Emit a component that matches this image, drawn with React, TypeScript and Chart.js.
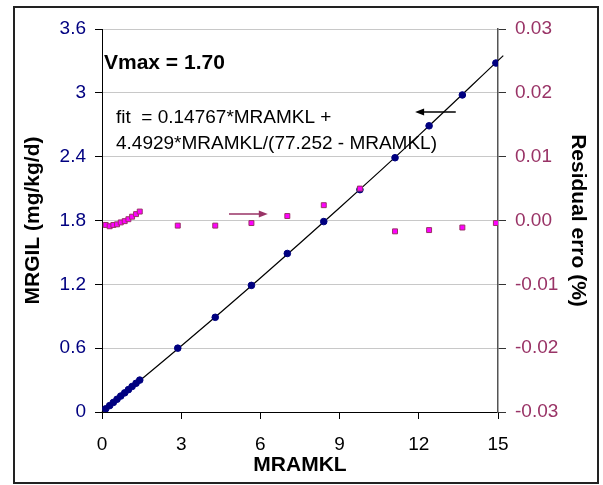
import React, { useEffect, useRef } from "react";
import { Chart, registerables } from "chart.js";

Chart.register(...registerables);

const FONT = "Arial, 'Liberation Sans', Helvetica, sans-serif";

// Measured points: MRAMKL (x) against MRGIL (left axis)
const mramkl = [
  0.14, 0.29, 0.43, 0.57, 0.71, 0.86, 1.0, 1.14, 1.29, 1.43,
  2.87, 4.29, 5.66, 7.02, 8.4, 9.77, 11.1, 12.39, 13.65, 14.92,
];
const mrgil = [
  0.03, 0.06, 0.09, 0.12, 0.15, 0.18, 0.21, 0.24, 0.27, 0.3,
  0.6, 0.89, 1.19, 1.49, 1.79, 2.09, 2.39, 2.69, 2.98, 3.28,
];
// Residual error (%) on the right axis
const residual = [
  -0.0007, -0.0009, -0.0007, -0.0006, -0.0003, -0.0001, 0.0002, 0.0006, 0.001, 0.0014,
  -0.0008, -0.0008, -0.0004, 0.0007, 0.0024, 0.005, -0.0017, -0.0015, -0.0011, -0.0004,
];
// Fitted curve
const fitX = [0, 3, 6, 9, 12, 15.2];
const fitY = [0, 0.62, 1.26, 1.92, 2.6, 3.35];

const xTicks = [0, 3, 6, 9, 12, 15];
const yTicks = [0, 0.6, 1.2, 1.8, 2.4, 3, 3.6];
const y2Ticks = [-0.03, -0.02, -0.01, 0, 0.01, 0.02, 0.03];

const vmaxLabel = "Vmax = 1.70";
const fitLabel = ["fit  = 0.14767*MRAMKL +", "4.4929*MRAMKL/(77.252 - MRAMKL)"];

const NAVY = "#000080";
const PLUM = "#993366";

function arrow(ctx: CanvasRenderingContext2D, x1: number, y: number, x2: number, color: string) {
  const dir = Math.sign(x2 - x1);
  ctx.save();
  ctx.strokeStyle = color;
  ctx.fillStyle = color;
  ctx.lineWidth = 1.5;
  ctx.beginPath();
  ctx.moveTo(x1, y);
  ctx.lineTo(x2 - dir * 6, y);
  ctx.stroke();
  ctx.beginPath();
  ctx.moveTo(x2, y);
  ctx.lineTo(x2 - dir * 9, y - 3.5);
  ctx.lineTo(x2 - dir * 9, y + 3.5);
  ctx.closePath();
  ctx.fill();
  ctx.restore();
}

const decor = {
  id: "decor",
  beforeDraw(chart: any) {
    const { ctx, width, height } = chart;
    ctx.save();
    ctx.fillStyle = "#ffffff";
    ctx.fillRect(0, 0, width, height);
    ctx.restore();
  },
  afterDatasetsDraw(chart: any) {
    const { ctx, chartArea, scales } = chart;
    const { x, y, y2 } = scales;
    ctx.save();
    ctx.fillStyle = "#000";
    ctx.textAlign = "left";
    ctx.textBaseline = "alphabetic";
    ctx.font = `bold 21px ${FONT}`;
    ctx.fillText(vmaxLabel, chartArea.left + 2, chartArea.top + 40);
    ctx.font = `19px ${FONT}`;
    ctx.fillText(fitLabel[0], chartArea.left + 14, chartArea.top + 94);
    ctx.fillText(fitLabel[1], chartArea.left + 14, chartArea.top + 120);
    ctx.restore();
    // arrows pointing to the axis each series belongs to
    arrow(ctx, x.getPixelForValue(13.4), y.getPixelForValue(2.82), x.getPixelForValue(11.86), "#000");
    arrow(ctx, x.getPixelForValue(4.81), y2.getPixelForValue(0.001), x.getPixelForValue(6.28), PLUM);
  },
  afterDraw(chart: any) {
    const { ctx } = chart;
    ctx.save();
    ctx.strokeStyle = "#222";
    ctx.lineWidth = 2;
    ctx.strokeRect(14, 7, 584, 476);
    ctx.restore();
  },
};

export default function App() {
  const ref = useRef<HTMLCanvasElement>(null);

  useEffect(() => {
    if (!ref.current) return;
    Chart.defaults.font.family = FONT;
    const chart = new Chart(ref.current, {
      type: "scatter",
      data: {
        datasets: [
          {
            label: "Residual",
            data: mramkl.map((v, i) => ({ x: v, y: residual[i] })),
            yAxisID: "y2",
            pointStyle: "rect",
            pointRadius: 3.5,
            backgroundColor: "#ff00ff",
            borderColor: PLUM,
            borderWidth: 1,
            order: 0,
          },
          {
            label: "MRGIL",
            data: mramkl.map((v, i) => ({ x: v, y: mrgil[i] })),
            yAxisID: "y",
            pointStyle: "circle",
            pointRadius: 3.3,
            backgroundColor: NAVY,
            borderColor: NAVY,
            borderWidth: 1,
            order: 1,
          },
          {
            label: "fit",
            data: fitX.map((v, i) => ({ x: v, y: fitY[i] })),
            yAxisID: "y",
            showLine: true,
            pointRadius: 0,
            borderColor: "#000",
            borderWidth: 1.2,
            tension: 0.4,
            clip: false,
            order: 2,
          } as any,
        ],
      },
      options: {
        responsive: false,
        animation: false,
        devicePixelRatio: 1,
        layout: { padding: { top: 29, left: 0, right: 0, bottom: 0 } },
        plugins: { legend: { display: false }, tooltip: { enabled: false } },
        scales: {
          x: {
            type: "linear",
            min: 0,
            max: 15,
            afterBuildTicks: (s: any) => { s.ticks = xTicks.map((v) => ({ value: v })); },
            afterFit: (s: any) => { s.height = 73; },
            ticks: { color: "#000", font: { size: 19 }, padding: 14, callback: (v: any) => String(v) },
            grid: { drawOnChartArea: false, tickLength: 7, tickColor: "#000" },
            border: { color: "#000", width: 1 },
            title: { display: true, text: "MRAMKL", color: "#000", font: { size: 21, weight: "bold" }, padding: { top: 0, bottom: 7 } },
          },
          y: {
            type: "linear",
            position: "left",
            min: 0,
            max: 3.6,
            afterBuildTicks: (s: any) => { s.ticks = yTicks.map((v) => ({ value: v })); },
            afterFit: (s: any) => { s.width = 102; },
            ticks: { color: NAVY, font: { size: 19 }, padding: 9, callback: (v: any) => String(Number(Number(v).toFixed(1))) },
            grid: { color: "#c8c8c8", tickLength: 7, tickColor: "#000" },
            border: { color: "#000", width: 1 },
            title: { display: true, text: "MRGIL (mg/kg/d)", color: "#000", font: { size: 21, weight: "bold" }, padding: { top: 21, bottom: 0 } },
          },
          y2: {
            type: "linear",
            position: "right",
            min: -0.03,
            max: 0.03,
            afterBuildTicks: (s: any) => { s.ticks = y2Ticks.map((v) => ({ value: v })); },
            afterFit: (s: any) => { s.width = 105; },
            ticks: { color: PLUM, font: { size: 19 }, padding: 9, callback: (v: any) => Number(v).toFixed(2) },
            grid: { drawOnChartArea: false, tickLength: 8, tickColor: "#333" },
            border: { color: "#555", width: 1.5 },
            title: { display: true, text: "Residual erro (%)", color: "#000", font: { size: 21, weight: "bold" }, padding: { top: 13, bottom: 0 } },
          },
        },
      },
      plugins: [decor],
    });
    return () => chart.destroy();
  }, []);

  return (
    <div style={{ position: "absolute", left: 0, top: 0, width: 603, height: 485 }}>
      <canvas ref={ref} width={603} height={485} style={{ display: "block" }} />
    </div>
  );
}
